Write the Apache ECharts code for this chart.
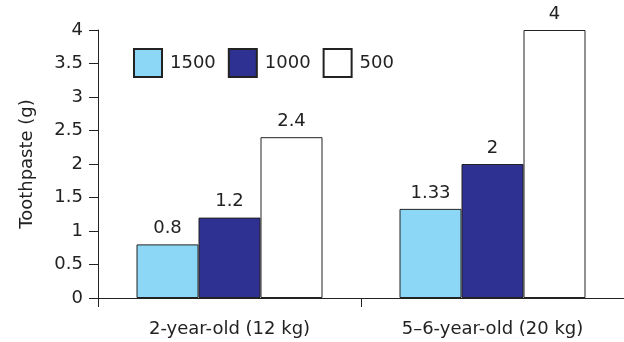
<!DOCTYPE html>
<html>
<head>
<meta charset="utf-8">
<script src="https://cdn.jsdelivr.net/npm/echarts@6/dist/echarts.min.js"></script>
<style>
  html, body { margin: 0; padding: 0; background: #fff; }
  #chart { width: 624px; height: 342px; }
</style>
</head>
<body>
<div id="chart"></div>
<script>
// Age groups along the x axis
const categories = ['2-year-old (12 kg)', '5\u20136-year-old (20 kg)'];
// Toothpaste amount (g) per fluoride concentration (ppm)
const seriesNames = ['1500', '1000', '500'];
const values1500 = [0.8, 1.33];
const values1000 = [1.2, 2];
const values500 = [2.4, 4];

const FONT = 'DejaVu Sans';
const INK = '#222';

const chart = echarts.init(document.getElementById('chart'), null, { renderer: 'canvas' });

function barSeries(name, data, color) {
  return {
    name: name,
    type: 'bar',
    data: data,
    barWidth: 62,
    barGap: '0%',
    itemStyle: { color: color, borderColor: INK, borderWidth: 1 },
    label: {
      show: true,
      position: 'top',
      distance: 7,
      color: INK,
      fontFamily: FONT,
      fontSize: 18
    }
  };
}

chart.setOption({
  animation: false,
  backgroundColor: '#fff',
  grid: { left: 98, top: 30, width: 528, bottom: 44, containLabel: false },
  legend: {
    left: 133,
    top: 48,
    padding: 0,
    itemWidth: 28,
    itemHeight: 28,
    itemGap: 12,
    icon: 'rect',
    data: seriesNames,
    textStyle: { color: INK, fontFamily: FONT, fontSize: 18, padding: [0, 0, 0, 3] }
  },
  xAxis: {
    type: 'category',
    data: categories,
    axisLine: { lineStyle: { color: INK, width: 1 } },
    axisTick: { show: true, length: 9, alignWithLabel: false, lineStyle: { color: INK } },
    axisLabel: { color: INK, fontFamily: FONT, fontSize: 18, margin: 22 },
    splitLine: { show: false }
  },
  yAxis: {
    type: 'value',
    min: 0,
    max: 4,
    interval: 0.5,
    name: 'Toothpaste (g)',
    nameLocation: 'middle',
    nameRotate: 90,
    nameGap: 62,
    nameTextStyle: { color: INK, fontFamily: FONT, fontSize: 18 },
    axisLine: { show: true, lineStyle: { color: INK, width: 1 } },
    axisTick: { show: true, length: 9, lineStyle: { color: INK } },
    axisLabel: { color: INK, fontFamily: FONT, fontSize: 18, margin: 15 },
    splitLine: { show: false }
  },
  series: [
    barSeries(seriesNames[0], values1500, '#8bd7f5'),
    barSeries(seriesNames[1], values1000, '#2e3192'),
    barSeries(seriesNames[2], values500, '#ffffff')
  ]
});
</script>
</body>
</html>
